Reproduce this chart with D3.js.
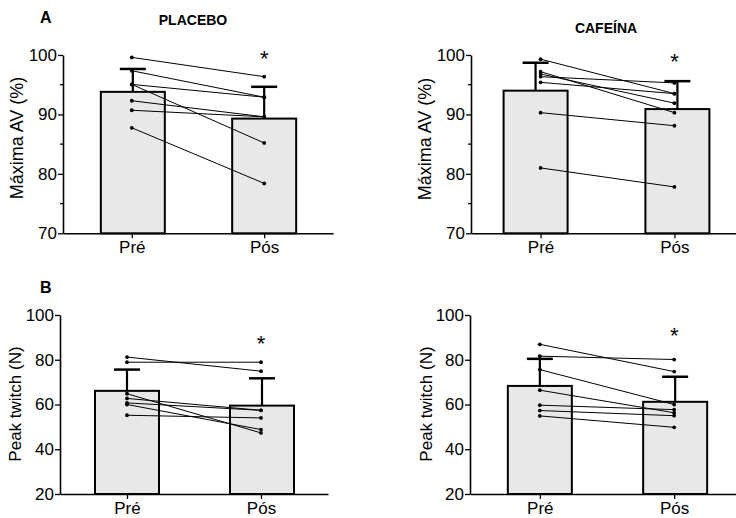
<!DOCTYPE html>
<html>
<head>
<meta charset="utf-8">
<script src="https://cdn.jsdelivr.net/npm/d3@7/dist/d3.min.js"></script>
<style>
  body { margin: 0; background: #fff; }
  text { font-family: "Liberation Sans", Arial, sans-serif; fill: #000; }
</style>
</head>
<body>
<div id="chart"></div>
<script>
var svgWidth = 736;
var svgHeight = 518;

var groups = ["Pré", "Pós"];

// Máxima AV (%) - placebo (one value per subject, same order pre/pos)
var avPlaceboPre = [99.6, 97.35, 95.05, 95.05, 92.3, 90.7, 87.75];
var avPlaceboPos = [96.35, 92.9, 92.9, 85.2, 89.6, 89.6, 78.4];
var avPlaceboMean = [93.8, 89.3];
var avPlaceboSD = [3.85, 5.35];

// Máxima AV (%) - cafeína
var avCafPre = [99.3, 97.2, 96.8, 96.35, 95.4, 90.3, 81.0];
var avCafPos = [93.5, 90.3, 91.9, 95.3, 93.5, 88.1, 77.8];
var avCafMean = [94.0, 90.9];
var avCafSD = [4.7, 4.7];

// Peak twitch (N) - placebo
var ptPlaceboPre = [81.2, 78.9, 64.8, 62.7, 60.7, 60.0, 55.2];
var ptPlaceboPos = [74.9, 78.9, 47.3, 57.4, 57.4, 48.8, 54.0];
var ptPlaceboMean = [66.1, 59.5];
var ptPlaceboSD = [9.5, 12.2];

// Peak twitch (N) - cafeína
var ptCafPre = [86.9, 81.6, 75.6, 66.4, 59.7, 57.3, 54.9];
var ptCafPos = [74.7, 80.1, 60.0, 56.3, 57.7, 55.0, 49.8];
var ptCafMean = [68.3, 61.2];
var ptCafSD = [12.1, 11.2];

var avTicks = [70, 80, 90, 100];
var avMinorTicks = [75, 85, 95];
var ptTicks = [20, 40, 60, 80, 100];

var panels = [
  { letter: "A", title: "PLACEBO", label: "Máxima AV (%)",
    pre: avPlaceboPre, pos: avPlaceboPos, mean: avPlaceboMean, sd: avPlaceboSD,
    domain: [70, 100], ticks: avTicks, minor: avMinorTicks, star: 100.25,
    x0: 63, w: 270, pad: 0.52, top: 55, bottom: 233.3, shift: [1, 0],
    titleX: 193, titleY: 25, labelX: 23, labelY: 138, labelSize: 18 },
  { letter: null, title: "CAFEÍNA", label: "Máxima AV (%)",
    pre: avCafPre, pos: avCafPos, mean: avCafMean, sd: avCafSD,
    domain: [70, 100], ticks: avTicks, minor: avMinorTicks, star: 99.7,
    x0: 471, w: 273, pad: 0.52, top: 55, bottom: 233.3, shift: [-5, 3],
    titleX: 606, titleY: 33, labelX: 431, labelY: 139, labelSize: 18 },
  { letter: "B", title: null, label: "Peak twitch (N)",
    pre: ptPlaceboPre, pos: ptPlaceboPos, mean: ptPlaceboMean, sd: ptPlaceboSD,
    domain: [20, 100], ticks: ptTicks, minor: [], star: 89.6,
    x0: 60, w: 268, pad: 0.5, top: 315, bottom: 494, shift: [0, 1],
    titleX: 0, titleY: 0, labelX: 21, labelY: 404, labelSize: 17 },
  { letter: null, title: null, label: "Peak twitch (N)",
    pre: ptCafPre, pos: ptCafPos, mean: ptCafMean, sd: ptCafSD,
    domain: [20, 100], ticks: ptTicks, minor: [], star: 93.0,
    x0: 470, w: 274, pad: 0.52, top: 315, bottom: 494, shift: [0, 1],
    titleX: 0, titleY: 0, labelX: 432, labelY: 404, labelSize: 17 }
];

var svg = d3.select("#chart")
  .append("svg")
  .attr("width", svgWidth)
  .attr("height", svgHeight);

// panel letters
svg.append("text").attr("x", 40).attr("y", 23)
  .attr("font-size", 16).attr("font-weight", "bold").text("A");
svg.append("text").attr("x", 40).attr("y", 293)
  .attr("font-size", 16).attr("font-weight", "bold").text("B");

panels.forEach(function(p) {
  var g = svg.append("g");

  var x = d3.scalePoint()
    .domain(groups)
    .range([p.x0, p.x0 + p.w])
    .padding(p.pad);

  var y = d3.scaleLinear()
    .domain(p.domain)
    .range([p.bottom, p.top]);

  var barW = 64;
  var capW = 26;

  if (p.title) {
    g.append("text")
      .attr("x", p.titleX)
      .attr("y", p.titleY)
      .attr("text-anchor", "middle")
      .attr("font-size", 14)
      .attr("font-weight", "bold")
      .text(p.title);
  }

  // bars
  g.selectAll("rect.bar")
    .data(p.mean)
    .enter()
    .append("rect")
    .attr("class", "bar")
    .attr("x", (d, i) => x(groups[i]) + p.shift[i] - barW / 2)
    .attr("y", d => y(d))
    .attr("width", barW)
    .attr("height", d => y(p.domain[0]) - y(d))
    .attr("fill", "#e8e8e8")
    .attr("stroke", "#000")
    .attr("stroke-width", 2);

  // error bars (mean + SD)
  var err = g.selectAll("g.err")
    .data(p.mean)
    .enter()
    .append("g")
    .attr("class", "err");

  err.append("line")
    .attr("x1", (d, i) => x(groups[i]) + p.shift[i])
    .attr("x2", (d, i) => x(groups[i]) + p.shift[i])
    .attr("y1", d => y(d))
    .attr("y2", (d, i) => y(d + p.sd[i]))
    .attr("stroke", "#000")
    .attr("stroke-width", 2.2);

  err.append("line")
    .attr("x1", (d, i) => x(groups[i]) + p.shift[i] - capW / 2)
    .attr("x2", (d, i) => x(groups[i]) + p.shift[i] + capW / 2)
    .attr("y1", (d, i) => y(d + p.sd[i]))
    .attr("y2", (d, i) => y(d + p.sd[i]))
    .attr("stroke", "#000")
    .attr("stroke-width", 2.5);

  // axes
  var leftAxis = d3.axisLeft(y)
    .tickValues(p.ticks)
    .tickSize(5)
    .tickSizeOuter(0)
    .tickPadding(1);

  var yAxis = g.append("g")
    .attr("transform", `translate(${p.x0}, 0)`)
    .call(leftAxis);

  if (p.minor.length) {
    yAxis.selectAll("line.minor")
      .data(p.minor)
      .enter()
      .append("line")
      .attr("class", "minor")
      .attr("x1", -3)
      .attr("x2", 0)
      .attr("y1", d => y(d))
      .attr("y2", d => y(d))
      .attr("stroke", "#000")
      .attr("stroke-width", 1.3);
  }

  var bottomAxis = d3.axisBottom(x)
    .tickSize(5)
    .tickSizeOuter(0)
    .tickPadding(3);

  var xAxis = g.append("g")
    .attr("transform", `translate(0, ${p.bottom})`)
    .call(bottomAxis);

  [yAxis, xAxis].forEach(function(a) {
    a.select(".domain").attr("stroke-width", 1.6);
    a.selectAll(".tick line").attr("stroke-width", 1.3);
    a.selectAll(".tick text")
      .attr("font-size", 17)
      .attr("font-family", "'Liberation Sans', Arial, sans-serif")
      .attr("fill", "#000");
  });

  // individual subjects
  var pairs = p.pre.map((d, i) => [d, p.pos[i]]);

  g.selectAll("line.subj")
    .data(pairs)
    .enter()
    .append("line")
    .attr("class", "subj")
    .attr("x1", x(groups[0]))
    .attr("x2", x(groups[1]))
    .attr("y1", d => y(d[0]))
    .attr("y2", d => y(d[1]))
    .attr("stroke", "#000")
    .attr("stroke-width", 1);

  var dots = p.pre.map(d => [groups[0], d]).concat(p.pos.map(d => [groups[1], d]));

  g.selectAll("circle")
    .data(dots)
    .enter()
    .append("circle")
    .attr("cx", d => x(d[0]))
    .attr("cy", d => y(d[1]))
    .attr("r", 1.9)
    .attr("fill", "#000");

  // significance mark
  g.append("text")
    .attr("x", x(groups[1]))
    .attr("y", y(p.star) + 0.57 * 22)
    .attr("text-anchor", "middle")
    .attr("font-size", 22)
    .text("*");

  // y label
  g.append("text")
    .attr("transform", `translate(${p.labelX}, ${p.labelY}) rotate(-90)`)
    .attr("text-anchor", "middle")
    .attr("font-size", p.labelSize)
    .text(p.label);
});
</script>
</body>
</html>
